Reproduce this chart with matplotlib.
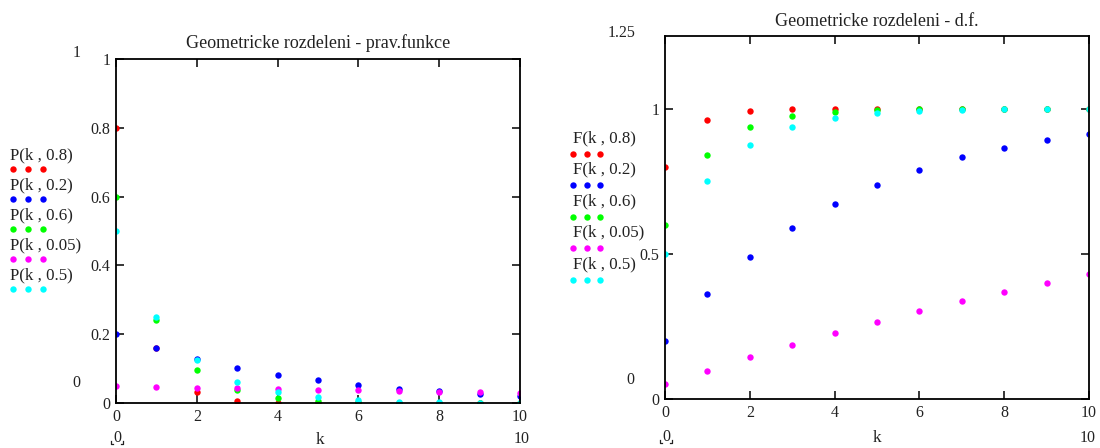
import matplotlib
matplotlib.use("Agg")
import matplotlib.pyplot as plt
from matplotlib.lines import Line2D

# ---- data ----
k = [0, 1, 2, 3, 4, 5, 6, 7, 8, 9, 10]

P_labels = ["P(k , 0.8)", "P(k , 0.2)", "P(k , 0.6)", "P(k , 0.05)", "P(k , 0.5)"]
P_08 = [0.8, 0.16, 0.032, 0.0064, 0.0013, 0.0003, 0.0001, 0.0, 0.0, 0.0, 0.0]
P_02 = [0.2, 0.16, 0.128, 0.102, 0.082, 0.066, 0.052, 0.042, 0.034, 0.027, 0.021]
P_06 = [0.6, 0.24, 0.096, 0.038, 0.015, 0.006, 0.0025, 0.001, 0.0004, 0.0002, 0.0001]
P_005 = [0.05, 0.0475, 0.045, 0.043, 0.041, 0.039, 0.037, 0.035, 0.033, 0.032, 0.030]
P_05 = [0.5, 0.25, 0.125, 0.0625, 0.031, 0.016, 0.008, 0.004, 0.002, 0.001, 0.0005]

F_labels = ["F(k , 0.8)", "F(k , 0.2)", "F(k , 0.6)", "F(k , 0.05)", "F(k , 0.5)"]
F_08 = [0.8, 0.96, 0.992, 0.998, 1.0, 1.0, 1.0, 1.0, 1.0, 1.0, 1.0]
F_02 = [0.2, 0.36, 0.488, 0.59, 0.672, 0.738, 0.79, 0.832, 0.866, 0.893, 0.914]
F_06 = [0.6, 0.84, 0.936, 0.974, 0.99, 0.996, 0.998, 0.999, 1.0, 1.0, 1.0]
F_005 = [0.05, 0.098, 0.143, 0.185, 0.226, 0.265, 0.302, 0.337, 0.370, 0.401, 0.431]
F_05 = [0.5, 0.75, 0.875, 0.938, 0.969, 0.984, 0.992, 0.996, 0.998, 0.999, 1.0]

colors = ["#ff0000", "#0000ff", "#00ff00", "#ff00ff", "#00ffff"]

left_yticks = [0, 0.2, 0.4, 0.6, 0.8, 1]
left_yticklabels = ["0", "0.2", "0.4", "0.6", "0.8", "1"]
right_yticks = [0, 0.5, 1]
right_yticklabels = ["0", "0.5", "1"]
xticks = [0, 2, 4, 6, 8, 10]
xticklabels = ["0", "2", "4", "6", "8", "10"]

title_left = "Geometricke rozdeleni - prav.funkce"
title_right = "Geometricke rozdeleni - d.f."

# ---- figure ----
W, H = 1100, 448
plt.rcParams['font.family'] = ['Liberation Serif', 'DejaVu Serif']
fig = plt.figure(figsize=(W / 100, H / 100), dpi=100)
fig.patch.set_facecolor("white")

TXT = "#222222"


def fx(px):
    return px / W


def fy(py):
    return 1 - py / H


def style_axes(ax, xmax, ymax, yt, ytl):
    ax.set_xlim(0, xmax)
    ax.set_ylim(0, ymax)
    ax.set_xticks(xticks)
    ax.set_xticklabels(xticklabels)
    ax.set_yticks(yt)
    ax.set_yticklabels(ytl)
    ax.tick_params(direction="in", length=6, width=1.1, top=True, right=True,
                   labelsize=11.5, labelcolor=TXT, pad=4)
    for s in ax.spines.values():
        s.set_linewidth(1.3)
        s.set_color("black")


def draw_legend(x_text, y_first, step, dot_dy, labels, dot_xs):
    for i, (lab, c) in enumerate(zip(labels, colors)):
        yt = y_first + i * step
        fig.text(fx(x_text), fy(yt), lab, fontsize=12.2, color=TXT,
                 ha="left", va="center")
        fig.add_artist(Line2D([fx(x) for x in dot_xs], [fy(yt + dot_dy)] * 3,
                              transform=fig.transFigure, linestyle="none",
                              marker="o", markersize=4.6, color=c,
                              markeredgewidth=0))


def placeholder_zero(xc, yc):
    # Mathcad placeholder: a "0" with small corner marks below it
    fig.text(fx(xc), fy(yc), "0", fontsize=11.5, color=TXT, ha="center", va="center")
    for side in (-1, 1):
        xe = xc + side * 6
        fig.add_artist(Line2D([fx(xe), fx(xe), fx(xe - side * 2)],
                              [fy(yc + 3), fy(yc + 6), fy(yc + 6)],
                              transform=fig.transFigure, color=TXT, lw=0.9))


# Left plot
axL = fig.add_axes([fx(116), fy(403), fx(520) - fx(116), fy(59) - fy(403)])
for ys, c in zip([P_08, P_02, P_06, P_005, P_05], colors):
    axL.plot(k, ys, linestyle="none", marker="o", markersize=4.6, color=c,
             markeredgewidth=0)
style_axes(axL, 10, 1, left_yticks, left_yticklabels)
fig.text(fx(318), fy(48), title_left, fontsize=13, color=TXT,
         ha="center", va="baseline")
fig.text(fx(77), fy(53), "1", fontsize=11.5, color=TXT, ha="center", va="center")
fig.text(fx(76), fy(383), "0", fontsize=11.5, color=TXT, ha="center", va="center")
placeholder_zero(117, 438)
fig.text(fx(320), fy(440), "k", fontsize=12.5, color=TXT, ha="center", va="center")
fig.text(fx(522), fy(439), "10", fontsize=11.5, color=TXT, ha="center", va="center")
draw_legend(10, 155, 30, 14, P_labels, [13, 28, 43])

# Right plot
axR = fig.add_axes([fx(665), fy(399), fx(1089) - fx(665), fy(36) - fy(399)])
for ys, c in zip([F_08, F_02, F_06, F_005, F_05], colors):
    axR.plot(k, ys, linestyle="none", marker="o", markersize=4.6, color=c,
             markeredgewidth=0)
style_axes(axR, 10, 1.25, right_yticks, right_yticklabels)
fig.text(fx(877), fy(26), title_right, fontsize=13, color=TXT,
         ha="center", va="baseline")
fig.text(fx(622), fy(33), "1.25", fontsize=11.5, color=TXT, ha="center", va="center")
fig.text(fx(630), fy(380), "0", fontsize=11.5, color=TXT, ha="center", va="center")
placeholder_zero(666, 437)
fig.text(fx(877), fy(438), "k", fontsize=12.5, color=TXT, ha="center", va="center")
fig.text(fx(1088), fy(438), "10", fontsize=11.5, color=TXT, ha="center", va="center")
draw_legend(573, 138, 31.5, 16, F_labels, [573, 587, 600])

fig.savefig("out.png", dpi=100, facecolor="white")
